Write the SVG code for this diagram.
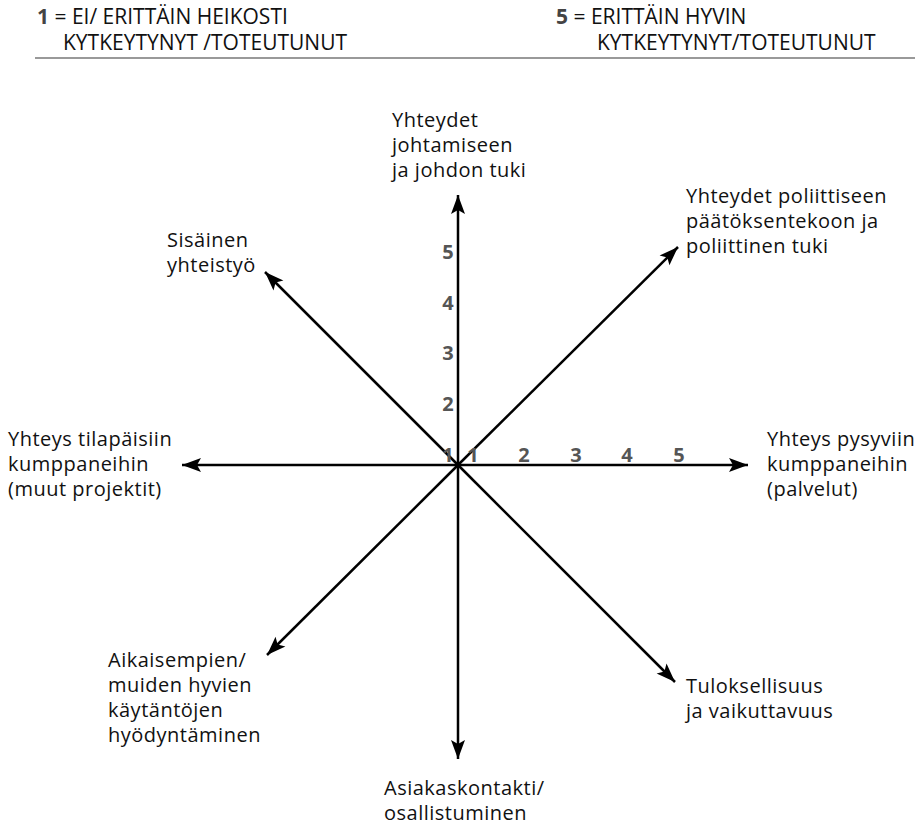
<svg xmlns="http://www.w3.org/2000/svg" width="920" height="826" viewBox="0 0 920 826">
  <style>
    .lbl { font-family: "Open Sans", "Noto Sans", "DejaVu Sans", sans-serif; font-size: 20px; letter-spacing: 0.5px; fill: #111; }
    .hdr { font-family: "Open Sans", "Noto Sans", "DejaVu Sans", sans-serif; font-size: 21px; fill: #111; }
    .num { font-family: "Open Sans", "Noto Sans", "DejaVu Sans", sans-serif; font-size: 20px; font-weight: bold; fill: #555; }
    .key { font-weight: bold; fill: #444; }
    .axis { stroke: #000; stroke-width: 2.5; fill: none; marker-end: url(#arrow); }
  </style>
  <defs>
    <marker id="arrow" markerUnits="userSpaceOnUse" markerWidth="22" markerHeight="16" viewBox="-20 -8 22 16" refX="0" refY="0" orient="auto">
      <path d="M0,0 L-19,-7 L-15,0 L-19,7 Z" fill="#000"/>
    </marker>
  </defs>

  <rect width="920" height="826" fill="#fff"/>

  <!-- scale legend -->
  <g id="legend">
    <text class="hdr" x="37" y="24"><tspan class="key">1</tspan> = EI/ ERITTÄIN HEIKOSTI</text>
    <text class="hdr" x="63" y="50">KYTKEYTYNYT /TOTEUTUNUT</text>
    <text class="hdr" x="556" y="24"><tspan class="key">5</tspan> = ERITTÄIN HYVIN</text>
    <text class="hdr" x="597" y="50">KYTKEYTYNYT/TOTEUTUNUT</text>
    <line x1="35" y1="58" x2="915" y2="58" stroke="#777" stroke-width="1.5"/>
  </g>

  <!-- radial axes from the common origin -->
  <g id="connectors">
    <line class="axis" x1="458" y1="465" x2="458" y2="195"/>
    <line class="axis" x1="458" y1="465" x2="458" y2="759"/>
    <line class="axis" x1="458" y1="465" x2="748" y2="465"/>
    <line class="axis" x1="458" y1="465" x2="182" y2="465"/>
    <line class="axis" x1="458" y1="465" x2="678" y2="247"/>
    <line class="axis" x1="458" y1="465" x2="265" y2="272"/>
    <line class="axis" x1="458" y1="465" x2="267" y2="655"/>
    <line class="axis" x1="458" y1="465" x2="675" y2="682"/>
  </g>

  <!-- scale ticks -->
  <g id="scale">
    <text class="num" x="448" y="259" text-anchor="middle">5</text>
    <text class="num" x="448" y="310" text-anchor="middle">4</text>
    <text class="num" x="448" y="360" text-anchor="middle">3</text>
    <text class="num" x="448" y="411" text-anchor="middle">2</text>
    <text class="num" x="448" y="462" text-anchor="middle">1</text>
    <text class="num" x="473" y="462" text-anchor="middle">1</text>
    <text class="num" x="524" y="462" text-anchor="middle">2</text>
    <text class="num" x="576" y="462" text-anchor="middle">3</text>
    <text class="num" x="627" y="462" text-anchor="middle">4</text>
    <text class="num" x="679" y="462" text-anchor="middle">5</text>
  </g>

  <g id="node-top">
    <text class="lbl" x="392" y="127">Yhteydet</text>
    <text class="lbl" x="392" y="152">johtamiseen</text>
    <text class="lbl" x="392" y="177">ja johdon tuki</text>
  </g>
  <g id="node-ne">
    <text class="lbl" x="686" y="203">Yhteydet poliittiseen</text>
    <text class="lbl" x="686" y="228">päätöksentekoon ja</text>
    <text class="lbl" x="686" y="253">poliittinen tuki</text>
  </g>
  <g id="node-nw">
    <text class="lbl" x="167" y="247">Sisäinen</text>
    <text class="lbl" x="167" y="272">yhteistyö</text>
  </g>
  <g id="node-w">
    <text class="lbl" x="8" y="446">Yhteys tilapäisiin</text>
    <text class="lbl" x="8" y="471">kumppaneihin</text>
    <text class="lbl" x="8" y="496">(muut projektit)</text>
  </g>
  <g id="node-e">
    <text class="lbl" x="767" y="446">Yhteys pysyviin</text>
    <text class="lbl" x="767" y="471">kumppaneihin</text>
    <text class="lbl" x="767" y="496">(palvelut)</text>
  </g>
  <g id="node-sw">
    <text class="lbl" x="108" y="667">Aikaisempien/</text>
    <text class="lbl" x="108" y="692">muiden hyvien</text>
    <text class="lbl" x="108" y="717">käytäntöjen</text>
    <text class="lbl" x="108" y="742">hyödyntäminen</text>
  </g>
  <g id="node-se">
    <text class="lbl" x="686" y="693">Tuloksellisuus</text>
    <text class="lbl" x="686" y="718">ja vaikuttavuus</text>
  </g>
  <g id="node-bottom">
    <text class="lbl" x="384" y="795">Asiakaskontakti/</text>
    <text class="lbl" x="384" y="820">osallistuminen</text>
  </g>
</svg>
